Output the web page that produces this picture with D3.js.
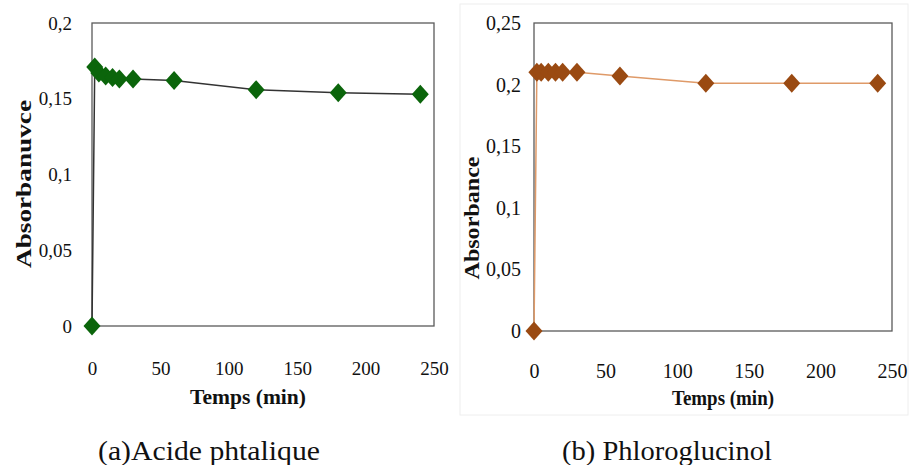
<!DOCTYPE html>
<html>
<head>
<meta charset="utf-8">
<script src="https://cdn.jsdelivr.net/npm/d3@7"></script>
<style>
  body { margin: 0; background: #fff; }
</style>
</head>
<body>
<script>
'use strict';

// data
const timeA = [0, 2, 5, 10, 15, 20, 30, 60, 120, 180, 240];
const absA  = [0, 0.171, 0.167, 0.165, 0.164, 0.163, 0.163, 0.162, 0.156, 0.154, 0.153];
const timeB = [0, 2, 5, 10, 15, 20, 30, 60, 120, 180, 240];
const absB  = [0, 0.21, 0.21, 0.21, 0.21, 0.21, 0.21, 0.207, 0.201, 0.201, 0.201];
const xTicks = [0, 50, 100, 150, 200, 250];
const yTicksA = [0, 0.05, 0.1, 0.15, 0.2];
const yTicksB = [0, 0.05, 0.1, 0.15, 0.2, 0.25];

const serif = "'Liberation Serif', 'Times New Roman', serif";

const svg = d3.select('body').append('svg')
  .attr('width', 909)
  .attr('height', 465)
  .style('font-family', serif);

// faint frame round the right panel
svg.append('rect')
  .attr('x', 460).attr('y', 4).attr('width', 448).attr('height', 411)
  .attr('fill', 'none').attr('stroke', '#eeeeee');

function comma(d) { return String(d).replace('.', ','); }

function drawPanel(opt) {
  const x = d3.scaleLinear().domain([0, 250]).range([opt.left, opt.right]);
  const y = d3.scaleLinear().domain([0, opt.yMax]).range([opt.bottom, opt.top]);
  const g = svg.append('g');

  // plot frame
  g.append('rect')
    .attr('x', opt.left).attr('y', opt.top)
    .attr('width', opt.right - opt.left).attr('height', opt.bottom - opt.top)
    .attr('fill', 'none').attr('stroke', '#5a5a5a').attr('stroke-width', 1.3);

  // axes, labels only (no tick marks in the original)
  const xAxis = d3.axisBottom(x).tickValues(xTicks).tickSize(0).tickPadding(opt.xPad).tickFormat(d => d);
  g.append('g').attr('transform', `translate(0,${opt.bottom})`).call(xAxis)
    .call(a => a.select('.domain').remove())
    .attr('font-family', null)
    .selectAll('text')
      .style('font-family', serif).style('font-size', opt.tickSize).attr('fill', '#111');

  const yAxis = d3.axisLeft(y).tickValues(opt.yTicks).tickSize(0).tickPadding(opt.yPad).tickFormat(comma);
  g.append('g').attr('transform', `translate(${opt.left},0)`).call(yAxis)
    .call(a => a.select('.domain').remove())
    .attr('font-family', null)
    .selectAll('text')
      .style('font-family', serif).style('font-size', opt.tickSize).attr('fill', '#111');

  const pts = opt.t.map((t, i) => [t, opt.v[i]]);

  g.append('path')
    .datum(pts)
    .attr('fill', 'none')
    .attr('stroke', opt.lineColor)
    .attr('stroke-width', 1.5)
    .attr('d', d3.line().x(d => x(d[0])).y(d => y(d[1])));

  g.selectAll('.pt')
    .data(pts)
    .enter().append('path')
    .attr('class', 'pt')
    .attr('transform', d => `translate(${x(d[0])},${y(d[1])})`)
    .attr('d', 'M0,-9.5L8.5,0L0,9.5L-8.5,0Z')
    .attr('fill', opt.markColor);

  // axis titles
  g.append('text')
    .attr('x', opt.xTitleX).attr('y', opt.xTitleY)
    .attr('text-anchor', 'middle')
    .attr('textLength', opt.xTitleLen).attr('lengthAdjust', 'spacingAndGlyphs')
    .style('font-family', serif)
    .style('font-size', '22px').style('font-weight', 'bold')
    .attr('fill', '#111')
    .text('Temps (min)');

  g.append('text')
    .attr('transform', `translate(${opt.yTitleX},${opt.yTitleY})rotate(-90)`)
    .attr('text-anchor', 'middle')
    .attr('textLength', opt.yTitleLen).attr('lengthAdjust', 'spacingAndGlyphs')
    .style('font-family', serif)
    .style('font-size', '21px').style('font-weight', 'bold')
    .attr('fill', '#111')
    .text(opt.yTitle);

  // caption
  g.append('text')
    .attr('x', opt.capX).attr('y', 460)
    .attr('text-anchor', 'middle')
    .attr('textLength', opt.capLen).attr('lengthAdjust', 'spacingAndGlyphs')
    .style('font-family', serif)
    .style('font-size', '27px')
    .attr('fill', '#111')
    .text(opt.caption);
}

drawPanel({
  left: 92, right: 434, top: 23, bottom: 326, yMax: 0.2,
  yTicks: yTicksA, t: timeA, v: absA,
  lineColor: '#333333', markColor: '#0b650b',
  xPad: 36, yPad: 20, tickSize: '19px',
  xTitleX: 248, xTitleY: 404, xTitleLen: 116,
  yTitleX: 31, yTitleY: 184, yTitleLen: 168, yTitle: 'Absorbanuvce',
  capX: 209, capLen: 222, caption: '(a)Acide phtalique'
});

drawPanel({
  left: 534, right: 892, top: 23, bottom: 331, yMax: 0.25,
  yTicks: yTicksB, t: timeB, v: absB,
  lineColor: '#df9a68', markColor: '#9a4a12',
  xPad: 33, yPad: 13, tickSize: '20px',
  xTitleX: 723, xTitleY: 405, xTitleLen: 102,
  yTitleX: 479, yTitleY: 218, yTitleLen: 123, yTitle: 'Absorbance',
  capX: 667, capLen: 210, caption: '(b) Phloroglucinol'
});
</script>
</body>
</html>
